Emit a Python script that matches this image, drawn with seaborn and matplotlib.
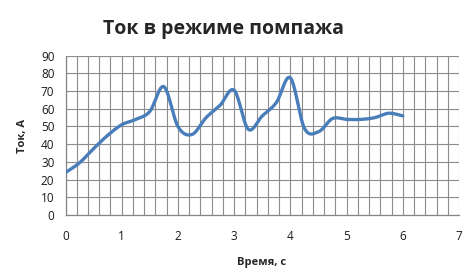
import numpy as np
import pandas as pd
import matplotlib
matplotlib.use("Agg")
import matplotlib.pyplot as plt
import seaborn as sns

# Data
time_s = [0, 0.25, 0.5, 0.75, 1.0, 1.25, 1.5, 1.75, 2.0, 2.25, 2.5, 2.75, 3.0,
          3.25, 3.5, 3.75, 4.0, 4.25, 4.5, 4.75, 5.0, 5.25, 5.5, 5.75, 6.0]
current_a = [24, 29.5, 37.5, 45, 51, 54, 58.5, 72.5, 50, 45.5, 55, 62, 70.5,
             48.5, 56, 63.5, 77.5, 49, 47, 54.5, 54, 54, 55, 57.5, 56]
x_ticks = [0, 1, 2, 3, 4, 5, 6, 7]
y_ticks = [0, 10, 20, 30, 40, 50, 60, 70, 80, 90]
title = "Ток в режиме помпажа"
x_label = "Время, с"
y_label = "Ток, А"


def smooth(xs, ys, n=24):
    """Excel-like smoothed line (Catmull-Rom style cubic Bezier)."""
    P = np.column_stack([xs, ys]).astype(float)
    out = [P[0]]
    for i in range(len(P) - 1):
        p0 = P[i - 1] if i > 0 else P[i]
        p1, p2 = P[i], P[i + 1]
        p3 = P[i + 2] if i + 2 < len(P) else P[i + 1]
        c1 = p1 + (p2 - p0) / 6.0
        c2 = p2 - (p3 - p1) / 6.0
        t = np.linspace(0, 1, n)[1:, None]
        seg = ((1 - t) ** 3) * p1 + 3 * ((1 - t) ** 2) * t * c1 + 3 * (1 - t) * t ** 2 * c2 + t ** 3 * p2
        out.extend(seg)
    out = np.array(out)
    return out[:, 0], out[:, 1]


sx, sy = smooth(time_s, current_a)
df = pd.DataFrame({"t": sx, "i": sy})

sns.set_style("white")
plt.rcParams["font.family"] = ["Open Sans", "DejaVu Sans"]

fig = plt.figure(figsize=(4.76, 2.79), dpi=100)
ax = fig.add_axes([65.5 / 476, 1 - 215 / 279, (459 - 65.5) / 476, (215 - 55.7) / 279])

sns.lineplot(data=df, x="t", y="i", ax=ax, color="#4a7ebb", linewidth=2.4, sort=False, zorder=3)

ax.set_xlim(0, 7)
ax.set_ylim(0, 90)
ax.set_xticks(x_ticks)
ax.set_yticks(y_ticks)
ax.set_xticks(np.arange(0, 7.01, 0.2), minor=True)
ax.grid(True, which="major", axis="y", color="#8c8c8c", linewidth=0.8)
ax.grid(True, which="both", axis="x", color="#8c8c8c", linewidth=0.8)
ax.set_axisbelow(True)
for side in ["top", "right"]:
    ax.spines[side].set_visible(False)
for side in ["left", "bottom"]:
    ax.spines[side].set_color("#868686")
    ax.spines[side].set_linewidth(0.9)
ax.tick_params(axis="both", which="both", length=0, labelsize=8.5, colors="#1a1a1a")
ax.tick_params(axis="x", pad=11)
ax.tick_params(axis="y", pad=8)

ax.set_xlabel("")
ax.set_ylabel("")
fig.text(261.7 / 476, 1 - 262 / 279, x_label, ha="center", va="center", fontsize=8, fontweight="bold")
fig.text(23 / 476, 1 - 136 / 279, y_label, ha="center", va="center", rotation=90, fontsize=8, fontweight="bold")
fig.text(223.5 / 476, 1 - 29 / 279, title, ha="center", va="center", fontsize=14, fontweight="bold")

fig.savefig("out.png", dpi=100)
